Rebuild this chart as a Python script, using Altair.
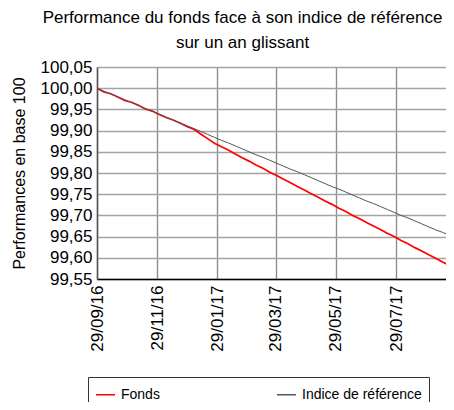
import altair as alt
import pandas as pd

# weekly observation dates (start 29/09/2016)
dates = [d.strftime("%Y-%m-%dT00:00:00") for d in pd.date_range("2016-09-29", periods=53, freq="7D")]

fonds = [100.000, 99.991, 99.987, 99.979, 99.971, 99.967, 99.960, 99.951, 99.946, 99.938,
         99.931, 99.925, 99.918, 99.910, 99.903, 99.892, 99.881, 99.870, 99.862, 99.854,
         99.845, 99.836, 99.828, 99.819, 99.811, 99.802, 99.794, 99.785, 99.777, 99.768,
         99.760, 99.751, 99.743, 99.734, 99.726, 99.717, 99.709, 99.700, 99.692, 99.683,
         99.675, 99.667, 99.658, 99.650, 99.641, 99.633, 99.624, 99.616, 99.607, 99.599,
         99.590, 99.582, 99.573]

indice = [100.000, 99.993, 99.986, 99.980, 99.973, 99.966, 99.959, 99.952, 99.946, 99.939,
          99.932, 99.925, 99.918, 99.911, 99.905, 99.898, 99.891, 99.884, 99.877, 99.871,
          99.864, 99.857, 99.850, 99.843, 99.837, 99.830, 99.823, 99.816, 99.809, 99.803,
          99.796, 99.789, 99.782, 99.775, 99.768, 99.762, 99.755, 99.748, 99.741, 99.734,
          99.728, 99.721, 99.714, 99.707, 99.700, 99.694, 99.687, 99.680, 99.673, 99.666,
          99.660, 99.653, 99.646]

series_names = ["Fonds", "Indice de référence"]
series_colors = ["#ff0000", "#555555"]
y_ticks = [99.55, 99.60, 99.65, 99.70, 99.75, 99.80, 99.85, 99.90, 99.95, 100.00, 100.05]
x_ticks = [(2016, 9), (2016, 11), (2017, 1), (2017, 3), (2017, 5), (2017, 7)]

rows = []
for d, f, i in zip(dates, fonds, indice):
    rows.append({"date": d, "serie": "Fonds", "valeur": f, "w": 1.7, "o": 0})
    rows.append({"date": d, "serie": "Indice de référence", "valeur": i, "w": 1.0, "o": 1})
df = pd.DataFrame(rows)

FONT = "Liberation Sans"

chart = alt.Chart(df).mark_line(clip=True).encode(
    x=alt.X("date:T",
            scale=alt.Scale(domain=[alt.DateTime(year=2016, month=9, date=29),
                                    alt.DateTime(year=2017, month=9, date=17, hours=12)]),
            axis=alt.Axis(values=[alt.DateTime(year=y, month=m, date=29) for y, m in x_ticks],
                          format="%d/%m/%y", labelAngle=-90, title=None,
                          labelFontSize=17, labelPadding=6, ticks=False,
                          domainColor="#000000", domainWidth=1.5,
                          gridColor="#8f8f8f", gridWidth=1.4, labelColor="#000000")),
    y=alt.Y("valeur:Q",
            scale=alt.Scale(domain=[99.55, 100.05], nice=False, zero=False),
            axis=alt.Axis(values=y_ticks, title="Performances en base 100",
                          labelExpr="replace(format(datum.value, '.2f'), '.', ',')",
                          labelFontSize=17, labelPadding=5, ticks=False,
                          domainColor="#555555", domainWidth=1.5,
                          gridColor="#a3a3a3", gridWidth=1.5,
                          titleFontSize=16, titleFontWeight="normal",
                          titleX=-70, titleColor="#000000", labelColor="#000000")),
    color=alt.Color("serie:N",
                    scale=alt.Scale(domain=series_names, range=series_colors),
                    legend=alt.Legend(orient="none", legendX=-9, legendY=310,
                                      direction="horizontal", title=None,
                                      symbolType="stroke", symbolSize=361,
                                      symbolStrokeWidth=1.5, labelFontSize=14,
                                      labelFont=FONT, labelOffset=5,
                                      columnPadding=114, padding=7,
                                      strokeColor="#333333", labelColor="#000000")),
    strokeWidth=alt.StrokeWidth("w:Q", scale=None, legend=None),
    order=alt.Order("o:Q"),
).properties(
    width=349, height=212,
    title=alt.TitleParams(
        text=["Performance du fonds face à son indice de référence", "sur un an glissant"],
        fontSize=17, font=FONT, fontWeight="normal", anchor="middle",
        dx=-29, lineHeight=25, offset=6, color="#000000"),
    autosize=alt.AutoSizeParams(type="none"),
    padding={"left": 89, "top": 59, "right": 0, "bottom": 123},
).configure(font=FONT).configure_view(stroke=None)

chart.save("out.html", embed_options={"renderer": "svg", "actions": False})
